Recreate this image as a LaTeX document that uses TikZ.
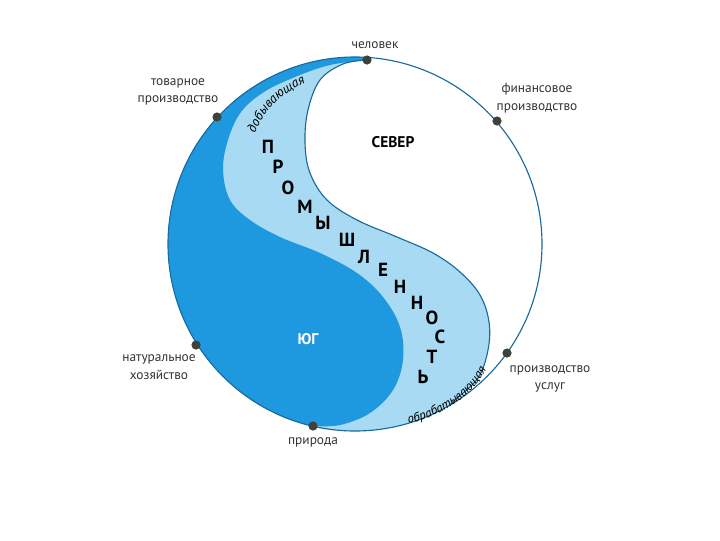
\documentclass[tikz,border=0pt]{standalone}
\usepackage{fontspec}
\setmainfont{PT Sans}
\usetikzlibrary{positioning,decorations.text}
\definecolor{southblue}{RGB}{30,152,222}
\definecolor{bandblue}{RGB}{168,218,243}
\definecolor{rimblue}{RGB}{27,105,155}
\definecolor{dotgray}{RGB}{65,65,60}

\begin{document}
\begin{tikzpicture}[x=0.025cm, y=-0.025cm,
  dot/.style={circle,fill=dotgray,inner sep=0pt,minimum size=2.3mm},
  lbl/.style={align=center,font=\fontsize{9.5}{12.5}\selectfont,text=black!80},
  let/.style={font=\bfseries\fontsize{13.5}{16}\selectfont},
  zone/.style={font=\bfseries\fontsize{11}{13}\selectfont}]
\useasboundingbox (0,0) rectangle (720,540);

\begin{scope}
  \clip (355,244) circle[radius=187];
  \fill[bandblue] (140,30) -- (367,30) -- plot[smooth,tension=0.6] coordinates {(367,60) (343,64) (320,80) (308,110) (305,143) (310,173) (327,200) (357,220) (397,237) (433,253) (460,272) (480,295) (489,322) (488,350) (478,378) (455,400)} -- (480,470) -- (140,470) -- cycle;
  \fill[southblue] (140,30) -- (367,30) -- plot[smooth,tension=0.6] coordinates {(367,60) (330,65) (295,77) (264,92) (241,112) (228,140) (223,170) (230,200) (250,220) (280,237) (320,253) (357,273) (383,297) (400,327) (403,360) (393,390) (370,413) (340,425) (313,426)} -- (313,470) -- (140,470) -- cycle;
\end{scope}
\draw[rimblue,line width=0.8pt] (355,244) circle[radius=187];
\draw[rimblue,line width=0.8pt] plot[smooth,tension=0.6] coordinates {(367,60) (343,64) (320,80) (308,110) (305,143) (310,173) (327,200) (357,220) (397,237) (433,253) (460,272) (480,295) (489,322) (488,350) (478,378) (455,400) (449,406)};

\path[decorate,decoration={text along path,text align=center,
  text={|\itshape\fontsize{9.5}{11}\selectfont|добывающая}}]
  (252,142) .. controls (261,112) and (280,92) .. (314,80);
\path[decorate,decoration={text along path,text align=center,
  text={|\itshape\fontsize{9}{11}\selectfont|обрабатывающая}}]
  (396,426) .. controls (440,419) and (476,397) .. (492,358);

\foreach \c/\x/\y [count=\i] in {П/268/147, Р/278/167, О/288/188, М/305/207, Ы/323/223, Ш/347/240, Л/364/257, Е/383/270, Н/400/287, Н/417/303, О/432/318, С/440/337, Т/432/357, Ь/423/377}
  \node[let] (p\i) at (\x,\y) {\c};

\node[zone] (north) at (393,142) {СЕВЕР};
\node[zone,text=white] (south) at (308,339) {ЮГ};

\node[dot] (man) at (367,60) {};
\node[dot] (goods) at (217,117) {};
\node[dot] (money) at (497,121) {};
\node[dot] (subs) at (196,345) {};
\node[dot] (serv) at (507,353) {};
\node[dot] (nat) at (313,426) {};

\node[lbl] (manl) at (375,45) {человек};
\node[lbl] (goodsl) at (178,92) {товарное\\производство};
\node[lbl] (moneyl) at (537,98) {финансовое\\производство};
\node[lbl] (subsl) at (159,367) {натуральное\\хозяйство};
\node[lbl] (servl) at (550,379) {производство\\услуг};
\node[lbl] (natl) at (313,442) {природа};
\end{tikzpicture}
\end{document}
